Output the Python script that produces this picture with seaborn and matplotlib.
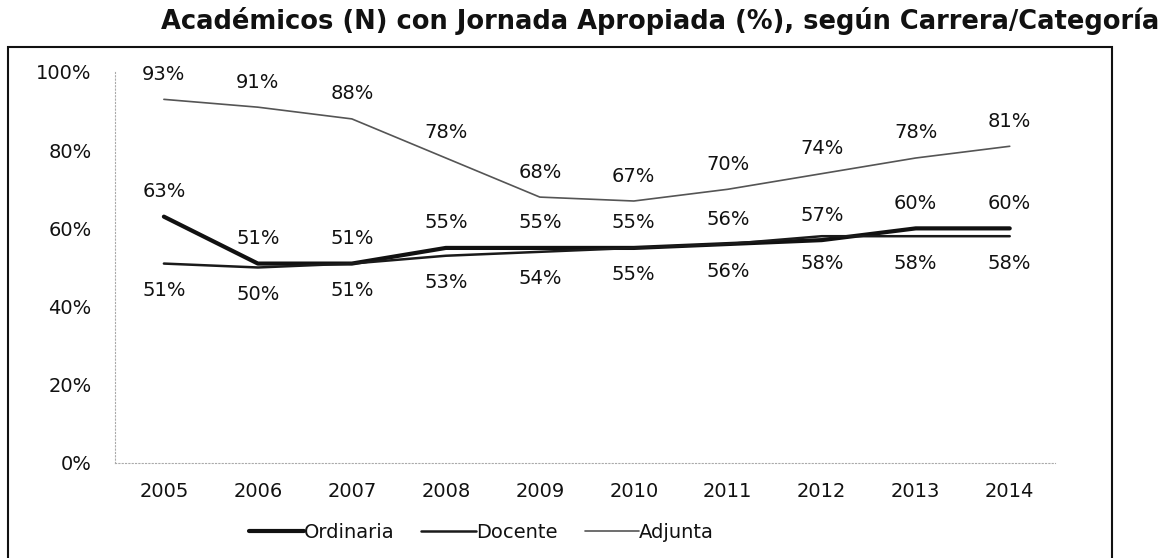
import numpy as np
import pandas as pd
import matplotlib
matplotlib.use("Agg")
import matplotlib.pyplot as plt
from matplotlib.patches import Rectangle
from matplotlib.ticker import PercentFormatter
import seaborn as sns

# ---------------------------------------------------------------------------
# Data
# ---------------------------------------------------------------------------
years = ["2005", "2006", "2007", "2008", "2009", "2010", "2011", "2012", "2013", "2014"]
ordinaria = [0.63, 0.51, 0.51, 0.55, 0.55, 0.55, 0.56, 0.57, 0.60, 0.60]
docente   = [0.51, 0.50, 0.51, 0.53, 0.54, 0.55, 0.56, 0.58, 0.58, 0.58]
adjunta   = [0.93, 0.91, 0.88, 0.78, 0.68, 0.67, 0.70, 0.74, 0.78, 0.81]
series_names = ["Ordinaria", "Docente", "Adjunta"]
title = "Académicos (N) con Jornada Apropiada (%), según Carrera/Categoría"

df = pd.DataFrame({
    "pos": list(range(len(years))) * 3,
    "value": ordinaria + docente + adjunta,
    "serie": np.repeat(series_names, len(years)),
})

sns.set_style("white")
plt.rcParams["font.family"] = ["DejaVu Sans"]

fig = plt.figure(figsize=(11.63, 5.58), dpi=100)
ax = fig.add_axes([0.0989, 0.1703, 0.8081, 0.7007])

styles = {
    "Ordinaria": dict(color="#111111", linewidth=3.0),
    "Docente":   dict(color="#1a1a1a", linewidth=1.8),
    "Adjunta":   dict(color="#555555", linewidth=1.2),
}
for name in series_names:
    sub = df[df["serie"] == name]
    sns.lineplot(data=sub, x="pos", y="value", ax=ax, label=name, **styles[name])

# data labels: Ordinaria & Adjunta above, Docente below
label_style = dict(ha="center", va="center", fontsize=14, color="#111111")
for name, offset in [("Ordinaria", 25), ("Adjunta", 25), ("Docente", -27)]:
    sub = df[df["serie"] == name]
    for x, v in zip(sub["pos"], sub["value"]):
        ax.annotate(f"{v:.0%}", (x, v), xytext=(0, offset),
                    textcoords="offset pixels", **label_style)

ax.set_xlim(-0.52, 9.48)
ax.set_ylim(0, 1.0)
ax.set_yticks([0, 0.2, 0.4, 0.6, 0.8, 1.0])
ax.yaxis.set_major_formatter(PercentFormatter(1.0, decimals=0))
ax.set_xticks(range(len(years)))
ax.set_xticklabels(years)
ax.set_xlabel("")
ax.set_ylabel("")
ax.tick_params(axis="y", length=5, width=0.8, color="#999999", labelsize=14,
               labelcolor="#111111", pad=12)
ax.tick_params(axis="x", length=0, labelsize=14, labelcolor="#111111", pad=14)

for side in ["top", "right"]:
    ax.spines[side].set_visible(False)
for side in ["left", "bottom"]:
    ax.spines[side].set_color("#aaaaaa")
    ax.spines[side].set_linestyle((0, (1, 2)))
    ax.spines[side].set_linewidth(0.8)

ax.legend(loc="upper center", bbox_to_anchor=(0.39, -0.108), ncol=3, frameon=False,
          fontsize=14, handlelength=2.8, handletextpad=0.0, columnspacing=1.4,
          labelcolor="#111111")

# outer chart frame (bottom edge runs off the image)
fig.patches.append(Rectangle((8 / 1163, -0.05), 1104 / 1163, 1.05 - 47 / 558,
                             transform=fig.transFigure, fill=False,
                             edgecolor="#111111", linewidth=1.5))

fig.text(0.997, 0.962, title, ha="right", va="center", fontsize=18.5,
         fontweight="bold", color="#111111")

fig.savefig("out.png", dpi=100)
plt.close(fig)
